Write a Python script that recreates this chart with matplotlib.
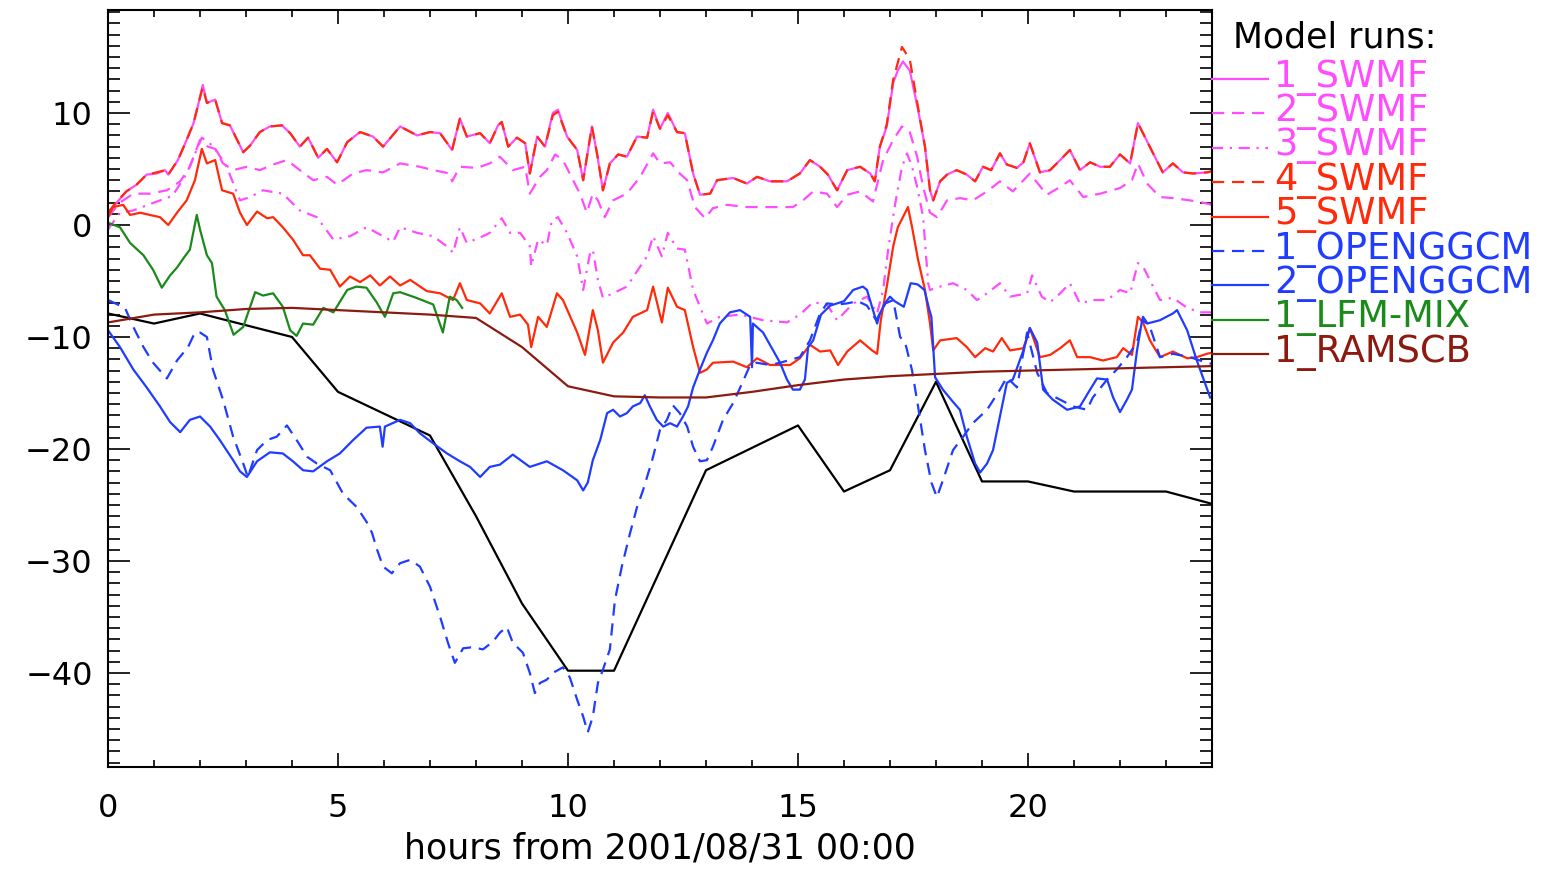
import matplotlib
matplotlib.use("Agg")
import matplotlib.pyplot as plt
import numpy as np
from matplotlib.lines import Line2D
from matplotlib.ticker import MultipleLocator

plt.rcParams['font.family'] = ['DejaVu Sans']

# (hour, value) pairs for each run
obs = [(0, -7.9), (1, -8.8), (2, -7.9), (4, -10.0), (5, -14.9), (7, -18.8), (8, -26.0),
       (9, -33.8), (10, -39.8), (11, -39.8), (13, -21.9), (15, -17.9), (16, -23.8),
       (17, -21.9), (18, -14.0), (19, -22.9), (20, -22.9), (21, -23.8), (23, -23.8), (24, -24.9)]

swmf1 = [(0, 1.1), (0.19, 2.0), (0.4, 3.0), (0.62, 3.6), (0.84, 4.5), (1.06, 4.6), (1.24, 4.9),
         (1.31, 4.5), (1.52, 5.8), (1.71, 7.6), (1.86, 9.1), (2.0, 11.4), (2.06, 12.5), (2.15, 10.9),
         (2.33, 11.2), (2.48, 9.1), (2.65, 8.9), (2.94, 6.5), (3.09, 7.1), (3.3, 8.3), (3.52, 8.8),
         (3.78, 8.9), (3.96, 8.2), (4.17, 7.0), (4.35, 7.8), (4.57, 6.0), (4.76, 6.8), (4.98, 5.6),
         (5.2, 7.4), (5.48, 8.3), (5.76, 7.9), (5.98, 7.0), (6.35, 8.8), (6.72, 8.0), (7.0, 8.3),
         (7.22, 8.2), (7.48, 6.7), (7.65, 9.5), (7.8, 7.9), (8.09, 8.2), (8.3, 7.3), (8.48, 8.9),
         (8.56, 9.2), (8.7, 7.0), (8.89, 7.8), (9.07, 7.3), (9.17, 4.6), (9.33, 7.9), (9.5, 7.0),
         (9.67, 10.0), (9.78, 10.3), (9.98, 7.9), (10.2, 6.7), (10.33, 4.0), (10.52, 8.8),
         (10.63, 6.4), (10.76, 3.1), (10.91, 5.5), (11.09, 6.3), (11.28, 6.1), (11.5, 7.9),
         (11.72, 7.8), (11.85, 10.3), (12.0, 8.6), (12.17, 10.0), (12.37, 8.3), (12.54, 8.2),
         (12.72, 4.6), (12.87, 2.7), (13.09, 2.8), (13.24, 4.0), (13.59, 4.2), (13.89, 3.7),
         (14.11, 4.3), (14.39, 3.9), (14.76, 3.9), (15.04, 4.6), (15.26, 5.8), (15.48, 5.2),
         (15.65, 4.5), (15.85, 3.1), (16.07, 4.9), (16.35, 5.2), (16.57, 4.6), (16.67, 3.9),
         (16.78, 7.0), (16.93, 8.8), (17.07, 12.7), (17.17, 13.8), (17.28, 14.6), (17.43, 13.8),
         (17.61, 10.3), (17.76, 7.0), (17.87, 3.1), (17.94, 2.2), (18.09, 3.9), (18.24, 4.5),
         (18.45, 4.9), (18.67, 4.5), (18.85, 3.9), (19.02, 5.2), (19.2, 4.9), (19.39, 6.4),
         (19.54, 5.4), (19.76, 5.1), (19.9, 5.6), (20.04, 7.3), (20.26, 4.7), (20.48, 4.9),
         (20.7, 5.8), (20.91, 6.7), (21.13, 4.9), (21.35, 5.6), (21.57, 5.2), (21.78, 5.2),
         (22.0, 6.3), (22.22, 5.5), (22.39, 9.1), (22.5, 8.2), (22.72, 6.4), (22.93, 4.7),
         (23.15, 5.5), (23.37, 4.7), (23.59, 4.6), (23.89, 4.7), (24, 4.8)]

swmf2 = [(0, 0.7), (0.26, 2.0), (0.55, 2.8), (0.91, 2.8), (1.28, 3.1), (1.57, 3.9), (1.78, 5.2),
         (2.0, 7.6), (2.17, 7.0), (2.33, 6.8), (2.5, 5.5), (2.72, 4.9), (3.02, 5.2), (3.3, 4.9),
         (3.59, 5.4), (3.89, 5.8), (4.17, 4.9), (4.46, 4.0), (4.76, 4.3), (4.98, 3.6), (5.33, 4.6),
         (5.62, 4.9), (5.98, 4.7), (6.35, 5.5), (6.78, 5.2), (7.07, 4.9), (7.43, 4.6), (7.48, 3.9),
         (7.65, 5.2), (8.02, 5.1), (8.3, 5.5), (8.52, 6.1), (8.8, 4.9), (9.07, 5.2), (9.17, 2.8),
         (9.39, 4.3), (9.54, 4.9), (9.72, 6.3), (9.89, 5.8), (10.11, 4.0), (10.26, 2.8),
         (10.41, 1.1), (10.54, 2.8), (10.65, 2.2), (10.8, 0.7), (10.98, 2.2), (11.28, 2.8),
         (11.57, 4.3), (11.85, 6.4), (12.0, 5.5), (12.22, 5.6), (12.43, 4.6), (12.59, 4.0),
         (12.76, 1.6), (12.98, 0.6), (13.15, 1.5), (13.46, 1.8), (13.89, 1.6), (14.33, 1.6),
         (14.89, 1.6), (15.11, 2.2), (15.33, 3.0), (15.63, 2.8), (15.85, 1.6), (16.07, 2.7),
         (16.35, 3.0), (16.63, 2.1), (16.85, 5.8), (17.07, 7.6), (17.26, 8.8), (17.43, 8.3),
         (17.59, 6.1), (17.72, 3.4), (17.87, 1.1), (18.02, 0.7), (18.24, 2.2), (18.52, 2.4),
         (18.8, 2.2), (19.11, 3.0), (19.39, 3.9), (19.67, 3.0), (20.04, 4.6), (20.41, 2.7),
         (20.7, 3.4), (20.91, 4.0), (21.2, 2.5), (21.57, 2.8), (22.0, 3.3), (22.26, 4.0),
         (22.39, 5.5), (22.59, 3.7), (22.87, 2.5), (23.15, 2.4), (23.52, 2.2), (23.8, 2.0), (24, 1.8)]

swmf3 = [(0, -0.4), (0.26, 1.1), (0.55, 1.3), (1.0, 2.0), (1.4, 2.6), (1.7, 4.5), (2.04, 7.8),
         (2.3, 7.0), (2.58, 5.2), (2.87, 2.2), (3.09, 2.5), (3.37, 3.1), (3.8, 2.8), (4.17, 1.3),
         (4.54, 0.7), (4.9, -1.3), (5.26, -1.0), (5.62, -0.2), (5.98, -1.0), (6.2, -1.5),
         (6.35, -0.2), (6.72, -0.7), (7.07, -1.0), (7.43, -2.1), (7.5, -2.5), (7.65, -0.2),
         (7.8, -1.6), (8.15, -1.0), (8.3, -0.7), (8.56, 0.6), (8.74, -0.7), (8.96, -0.7),
         (9.17, -1.9), (9.2, -3.7), (9.35, -1.3), (9.54, -1.8), (9.65, 0.4), (9.78, 0.7),
         (9.98, -0.7), (10.2, -2.8), (10.33, -5.8), (10.48, -2.5), (10.54, -2.2), (10.65, -4.9),
         (10.76, -6.5), (10.98, -6.1), (11.28, -5.5), (11.57, -3.7), (11.72, -2.8), (11.85, -1.0),
         (12.04, -2.8), (12.17, -0.7), (12.37, -2.1), (12.54, -2.2), (12.72, -5.8), (13.02, -8.8),
         (13.3, -8.2), (13.74, -8.0), (14.24, -8.5), (14.76, -8.7), (15.04, -8.0), (15.33, -6.9),
         (15.63, -7.1), (15.85, -8.5), (16.2, -7.0), (16.5, -6.4), (16.72, -7.9), (16.85, -5.8),
         (16.96, -2.2), (17.1, 1.6), (17.26, 5.2), (17.37, 6.4), (17.48, 5.2), (17.59, 3.4),
         (17.72, 0.7), (17.83, -5.2), (17.87, -5.8), (18.09, -5.5), (18.37, -5.2), (18.67, -5.8),
         (18.89, -6.7), (19.11, -6.1), (19.39, -5.2), (19.61, -6.4), (19.98, -6.1), (20.09, -4.5),
         (20.3, -6.4), (20.48, -6.9), (20.7, -6.1), (20.91, -5.2), (21.13, -7.0), (21.41, -6.7),
         (21.72, -6.7), (22.0, -5.8), (22.22, -6.1), (22.39, -3.4), (22.5, -3.7), (22.72, -5.5),
         (22.87, -6.7), (23.15, -6.5), (23.46, -7.4), (23.74, -7.8), (24, -7.8)]

# 4_SWMF follows 1_SWMF closely; it peaks higher near 17 h
swmf4 = [(0, 1.1), (0.19, 2.1), (0.4, 3.0), (0.62, 3.6), (0.84, 4.5), (1.06, 4.7), (1.24, 4.9),
         (1.31, 4.5), (1.52, 5.8), (1.71, 7.6), (1.86, 9.1), (2.0, 11.4), (2.06, 12.3), (2.15, 10.9),
         (2.33, 11.2), (2.48, 9.1), (2.65, 8.9), (2.94, 6.5), (3.09, 7.1), (3.3, 8.3), (3.52, 8.8),
         (3.78, 8.9), (3.96, 8.2), (4.17, 7.0), (4.35, 7.8), (4.57, 6.0), (4.76, 6.8), (4.98, 5.6),
         (5.2, 7.4), (5.48, 8.3), (5.76, 7.9), (5.98, 7.0), (6.35, 8.8), (6.72, 8.0), (7.0, 8.3),
         (7.22, 8.2), (7.48, 6.7), (7.65, 9.5), (7.8, 7.9), (8.09, 8.2), (8.3, 7.3), (8.48, 8.9),
         (8.56, 9.2), (8.7, 7.0), (8.89, 7.8), (9.07, 7.3), (9.17, 4.6), (9.33, 7.9), (9.5, 7.0),
         (9.67, 9.8), (9.78, 10.1), (9.98, 7.9), (10.2, 6.7), (10.33, 4.0), (10.52, 8.8),
         (10.63, 6.4), (10.76, 3.1), (10.91, 5.5), (11.09, 6.3), (11.28, 6.1), (11.5, 7.9),
         (11.72, 7.8), (11.85, 10.1), (12.0, 8.6), (12.17, 9.8), (12.37, 8.3), (12.54, 8.2),
         (12.72, 4.6), (12.87, 2.7), (13.09, 2.8), (13.24, 4.0), (13.59, 4.2), (13.89, 3.7),
         (14.11, 4.3), (14.39, 3.9), (14.76, 3.9), (15.04, 4.6), (15.26, 5.8), (15.48, 5.2),
         (15.65, 4.5), (15.85, 3.1), (16.07, 4.9), (16.35, 5.2), (16.57, 4.6), (16.67, 3.9),
         (16.78, 7.0), (16.93, 9.0), (17.07, 13.0), (17.17, 14.5), (17.26, 15.9), (17.43, 14.8),
         (17.61, 10.5), (17.76, 7.0), (17.87, 3.1), (17.94, 2.2), (18.09, 3.9), (18.24, 4.5),
         (18.45, 4.9), (18.67, 4.5), (18.85, 3.9), (19.02, 5.2), (19.2, 4.9), (19.39, 6.4),
         (19.54, 5.4), (19.76, 5.1), (19.9, 5.6), (20.04, 7.3), (20.26, 4.7), (20.48, 4.9),
         (20.7, 5.8), (20.91, 6.7), (21.13, 4.9), (21.35, 5.6), (21.57, 5.2), (21.78, 5.2),
         (22.0, 6.3), (22.22, 5.5), (22.39, 9.1), (22.5, 8.2), (22.72, 6.4), (22.93, 4.7),
         (23.15, 5.5), (23.37, 4.7), (23.59, 4.6), (23.89, 4.7), (24, 4.8)]

swmf5 = [(0, 0.7), (0.11, 1.6), (0.33, 1.8), (0.48, 0.9), (0.7, 1.1), (0.91, 0.9), (1.13, 0.7),
         (1.31, 0.0), (1.5, 1.1), (1.71, 2.2), (1.89, 4.0), (2.04, 6.8), (2.15, 5.5), (2.33, 5.8),
         (2.48, 3.1), (2.72, 2.8), (2.87, 1.1), (3.02, 0.0), (3.24, 1.2), (3.46, 0.6), (3.59, 0.7),
         (3.8, -0.2), (4.02, -1.3), (4.24, -2.7), (4.39, -2.7), (4.61, -3.9), (4.83, -4.0),
         (5.04, -5.5), (5.26, -4.6), (5.48, -5.1), (5.7, -4.5), (5.91, -5.4), (6.13, -4.6),
         (6.35, -5.4), (6.57, -4.9), (6.93, -5.9), (7.22, -6.1), (7.5, -6.7), (7.65, -5.2),
         (7.8, -6.7), (8.09, -7.0), (8.3, -7.9), (8.56, -6.1), (8.74, -8.2), (8.96, -8.0),
         (9.13, -8.9), (9.2, -10.9), (9.35, -8.2), (9.54, -9.1), (9.76, -6.1), (9.89, -6.7),
         (10.2, -9.6), (10.37, -11.6), (10.54, -7.6), (10.65, -9.4), (10.76, -12.3), (10.98, -10.5),
         (11.2, -9.6), (11.41, -8.2), (11.72, -7.6), (11.85, -5.5), (12.04, -8.7), (12.17, -5.6),
         (12.37, -7.3), (12.54, -7.6), (12.72, -10.9), (12.87, -13.2), (13.02, -12.9),
         (13.15, -12.3), (13.59, -12.2), (13.89, -12.7), (14.11, -11.9), (14.39, -12.5),
         (14.83, -12.5), (15.04, -11.9), (15.26, -10.7), (15.48, -11.3), (15.7, -11.2),
         (15.87, -12.5), (16.07, -11.3), (16.35, -10.3), (16.61, -11.2), (16.72, -11.5),
         (16.8, -8.5), (16.93, -5.5), (17.07, -1.9), (17.17, -0.2), (17.33, 1.1), (17.39, 1.6),
         (17.48, -0.2), (17.61, -3.1), (17.76, -5.8), (17.87, -8.8), (17.94, -11.2), (18.09, -10.3),
         (18.45, -10.1), (18.67, -10.9), (18.85, -11.8), (19.07, -11.0), (19.24, -11.3),
         (19.43, -10.1), (19.61, -11.2), (19.9, -11.0), (20.04, -9.2), (20.26, -11.8),
         (20.48, -11.6), (20.7, -11.0), (20.91, -10.3), (21.07, -11.8), (21.35, -11.8),
         (21.63, -12.1), (21.93, -11.8), (22.07, -11.0), (22.26, -11.6), (22.39, -8.2),
         (22.5, -8.7), (22.65, -10.3), (22.87, -11.8), (23.15, -11.3), (23.46, -11.9),
         (23.67, -11.8), (23.89, -11.5), (24, -11.4)]

openggcm1 = [(0, -6.7), (0.37, -7.4), (0.55, -9.1), (0.77, -10.9), (0.98, -12.3), (1.28, -13.7),
             (1.5, -12.1), (1.74, -10.9), (1.89, -9.6), (2.0, -9.6), (2.15, -10.0), (2.28, -12.9),
             (2.5, -15.6), (2.72, -18.9), (2.94, -21.3), (3.04, -22.5), (3.24, -20.1), (3.46, -19.2),
             (3.67, -18.9), (3.89, -17.9), (4.1, -19.2), (4.33, -20.7), (4.54, -21.3), (4.83, -21.9),
             (5.11, -24.0), (5.41, -25.2), (5.62, -26.5), (5.74, -27.5), (5.85, -29.0), (5.98, -30.5),
             (6.17, -31.1), (6.35, -30.2), (6.57, -29.9), (6.78, -30.5), (7.0, -32.3), (7.22, -35.0),
             (7.39, -37.3), (7.54, -39.1), (7.72, -37.8), (7.93, -37.7), (8.15, -37.9), (8.37, -37.2),
             (8.52, -36.4), (8.67, -35.9), (8.8, -37.3), (9.02, -38.2), (9.17, -40.0), (9.28, -41.8),
             (9.39, -40.9), (9.54, -40.6), (9.67, -40.0), (9.89, -39.5), (10.04, -40.4),
             (10.2, -42.4), (10.33, -43.9), (10.43, -45.3), (10.54, -43.9), (10.65, -40.9),
             (10.76, -39.7), (10.91, -37.9), (11.02, -33.5), (11.17, -30.5), (11.35, -27.5),
             (11.5, -25.2), (11.63, -23.7), (11.83, -21.0), (12.0, -18.3), (12.15, -17.4),
             (12.28, -16.1), (12.43, -16.8), (12.59, -18.0), (12.72, -19.8), (12.87, -21.1),
             (13.02, -21.0), (13.15, -19.8), (13.37, -17.4), (13.59, -15.9), (13.8, -14.0),
             (13.96, -12.5), (14.1, -12.3), (14.39, -12.5), (14.61, -12.3), (15.04, -11.8),
             (15.26, -10.3), (15.48, -7.9), (15.63, -7.0), (15.85, -7.1), (16.07, -7.0),
             (16.3, -6.8), (16.5, -7.2), (16.7, -8.5), (16.9, -7.0), (17.07, -6.7), (17.22, -10.0),
             (17.33, -10.5), (17.48, -13.0), (17.61, -16.2), (17.76, -20.1), (17.9, -23.0),
             (18.02, -24.3), (18.15, -22.8), (18.37, -20.1), (18.59, -18.9), (18.8, -17.7),
             (19.11, -16.5), (19.39, -14.7), (19.54, -13.6), (19.76, -14.5), (19.98, -9.6),
             (20.2, -13.2), (20.41, -15.0), (20.7, -15.6), (20.98, -16.2), (21.28, -16.5),
             (21.41, -15.4), (21.72, -13.8), (21.93, -12.9), (22.15, -11.8), (22.37, -10.5),
             (22.5, -8.2), (22.65, -9.1), (22.87, -11.8), (23.15, -11.5), (23.52, -11.8),
             (23.89, -12.3), (24, -12.4)]

openggcm2 = [(0, -9.4), (0.26, -10.9), (0.55, -12.9), (0.84, -14.5), (1.13, -16.2), (1.35, -17.6),
             (1.57, -18.5), (1.78, -17.4), (2.0, -17.1), (2.22, -18.0), (2.43, -19.2), (2.72, -21.0),
             (2.87, -22.0), (3.02, -22.5), (3.24, -21.1), (3.52, -20.3), (3.8, -20.4), (4.02, -21.1),
             (4.24, -21.9), (4.46, -22.0), (4.76, -21.1), (5.04, -20.4), (5.33, -19.2), (5.62, -18.1),
             (5.91, -18.0), (5.97, -19.8), (6.02, -18.0), (6.35, -17.4), (6.57, -17.7), (6.78, -18.6),
             (7.07, -19.5), (7.37, -20.4), (7.65, -21.1), (7.87, -21.6), (8.09, -22.5), (8.3, -21.6),
             (8.52, -21.4), (8.8, -20.5), (9.17, -21.6), (9.54, -21.1), (9.89, -21.9), (10.2, -22.8),
             (10.33, -23.7), (10.43, -23.0), (10.54, -21.0), (10.7, -19.2), (10.85, -16.8),
             (10.98, -16.5), (11.13, -17.1), (11.28, -16.8), (11.41, -16.2), (11.57, -15.9),
             (11.67, -15.2), (11.78, -16.2), (11.93, -17.4), (12.07, -18.0), (12.22, -17.7),
             (12.37, -18.0), (12.5, -17.1), (12.61, -16.2), (12.72, -14.5), (12.87, -12.9),
             (13.02, -11.4), (13.15, -10.3), (13.3, -8.8), (13.52, -7.8), (13.74, -7.6), (13.96, -8.2),
             (14.0, -12.7), (14.02, -8.8), (14.24, -9.6), (14.46, -11.2), (14.61, -12.3),
             (14.76, -13.8), (14.89, -14.7), (15.04, -14.7), (15.15, -13.8), (15.22, -10.9),
             (15.33, -10.3), (15.5, -8.0), (15.7, -7.2), (16.0, -6.8), (16.2, -5.8), (16.41, -5.5),
             (16.5, -5.8), (16.63, -7.6), (16.72, -8.8), (16.78, -7.9), (16.89, -7.0), (17.0, -6.4),
             (17.1, -6.8), (17.3, -7.3), (17.45, -5.2), (17.6, -5.3), (17.75, -5.8), (17.85, -7.5),
             (17.9, -8.2), (17.98, -13.6), (18.15, -14.7), (18.37, -15.8), (18.52, -16.5),
             (18.67, -18.9), (18.85, -21.3), (18.96, -22.1), (19.11, -21.3), (19.24, -20.1),
             (19.39, -17.1), (19.54, -14.1), (19.67, -13.8), (19.9, -11.2), (20.04, -9.2),
             (20.2, -10.5), (20.33, -14.7), (20.54, -15.6), (20.85, -16.5), (21.13, -16.2),
             (21.35, -14.7), (21.5, -13.7), (21.72, -13.8), (21.85, -15.4), (22.0, -16.7),
             (22.15, -15.6), (22.26, -14.7), (22.37, -11.2), (22.48, -8.5), (22.59, -8.8),
             (22.87, -8.5), (23.15, -7.9), (23.24, -7.6), (23.46, -9.4), (23.67, -12.1), (23.96, -15.4)]

lfm_mix = [(0, 0.2), (0.26, -0.2), (0.48, -1.6), (0.77, -2.7), (0.98, -4.0), (1.17, -5.6),
           (1.35, -4.5), (1.5, -3.8), (1.67, -2.8), (1.78, -2.2), (1.93, 0.9), (2.0, -0.4),
           (2.15, -2.7), (2.26, -3.4), (2.36, -6.4), (2.54, -7.6), (2.73, -9.8), (2.94, -9.1),
           (3.09, -7.3), (3.2, -6.0), (3.37, -6.3), (3.59, -6.1), (3.8, -7.3), (3.96, -9.4),
           (4.1, -9.9), (4.24, -8.8), (4.46, -8.9), (4.68, -7.4), (4.9, -7.8), (5.2, -5.8),
           (5.4, -5.5), (5.62, -5.6), (5.84, -6.9), (6.02, -8.2), (6.2, -6.1), (6.35, -6.0),
           (6.7, -6.5), (7.07, -7.1), (7.28, -9.6), (7.43, -6.4), (7.58, -6.7), (7.7, -7.4)]

ramscb = [(0, -8.7), (1, -8.0), (2, -7.8), (3, -7.5), (4, -7.4), (5, -7.6), (6, -7.8), (7, -8.0),
          (8, -8.3), (9, -10.9), (10, -14.4), (11, -15.3), (12, -15.4), (13, -15.4), (14, -14.9),
          (15, -14.3), (16, -13.8), (17, -13.5), (18, -13.3), (19, -13.1), (20, -13.0),
          (21, -12.9), (22, -12.8), (23, -12.7), (24, -12.6)]

labels = ['1_SWMF', '2_SWMF', '3_SWMF', '4_SWMF', '5_SWMF',
          '1_OPENGGCM', '2_OPENGGCM', '1_LFM-MIX', '1_RAMSCB']
runs = [swmf1, swmf2, swmf3, swmf4, swmf5, openggcm1, openggcm2, lfm_mix, ramscb]

magenta = '#ff4cff'
red = '#ff2a0a'
blue = '#1f3cff'
green = '#1a8a1a'
brown = '#8c1a10'
dash = (0, (5.5, 3.5))
dashdot = (0, (5, 3, 1, 3))
styles = [(magenta, '-'), (magenta, dash), (magenta, dashdot), (red, dash), (red, '-'),
          (blue, dash), (blue, '-'), (green, '-'), (brown, '-')]

W, H = 1553, 869
fig = plt.figure(figsize=(W / 100, H / 100), dpi=100)
ax = fig.add_axes([108 / W, 1 - 767 / H, 1104 / W, 757 / H])

o = np.array(obs)
ax.plot(o[:, 0], o[:, 1], color='black', lw=1.6)
for data, (c, ls) in zip(runs, styles):
    d = np.array(data)
    ax.plot(d[:, 0], d[:, 1], color=c, ls=ls, lw=1.6)

ax.set_xlim(0, 24)
ax.set_ylim(-48.4, 19.2)
ax.set_xticks([0, 5, 10, 15, 20])
ax.xaxis.set_minor_locator(MultipleLocator(1))
ax.set_yticks([-40, -30, -20, -10, 0, 10])
ax.yaxis.set_minor_locator(MultipleLocator(1))
ax.tick_params(which='both', direction='in', top=True, right=True, width=1.2, labelsize=23)
ax.tick_params(axis='x', which='major', length=10, pad=19)
ax.tick_params(axis='x', which='minor', length=5)
ax.tick_params(axis='y', which='major', length=16, pad=11)
ax.tick_params(axis='y', which='minor', length=8.5)
for s in ax.spines.values():
    s.set_linewidth(1.5)
ax.set_xlabel('hours from 2001/08/31 00:00', fontsize=25, labelpad=5)

# run key to the right of the plot
fig.text(1233 / W, 1 - 38 / H, 'Model runs:', fontsize=25, va='center', ha='left', color='black')
for i, (lab, (c, ls)) in enumerate(zip(labels, styles)):
    ypx = 79 + 34.4 * i
    fig.add_artist(Line2D([1212 / W, 1268 / W], [1 - ypx / H, 1 - ypx / H],
                          transform=fig.transFigure, color=c, ls=ls, lw=1.6))
    fig.text(1274 / W, 1 - (ypx - 2) / H, lab, fontsize=26.5, va='center', ha='left', color=c)

fig.savefig('out.png', dpi=100)
